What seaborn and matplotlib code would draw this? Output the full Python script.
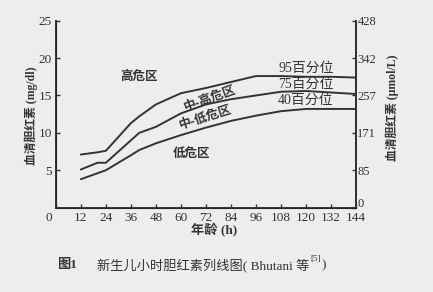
import numpy as np
import pandas as pd
import matplotlib
matplotlib.use("Agg")
import matplotlib.pyplot as plt
import matplotlib.transforms as mtrans
import seaborn as sns

# ---- data ----
hours = [12, 20, 24, 36, 40, 48, 60, 72, 84, 96, 108, 120, 132, 144]
p95 = [7.1, 7.4, 7.6, 11.3, 12.2, 13.8, 15.3, 16.0, 16.8, 17.6, 17.6, 17.5, 17.5, 17.4]
p75 = [5.1, 6.0, 6.0, 9.0, 10.0, 10.8, 12.6, 13.8, 14.5, 15.0, 15.5, 15.6, 15.4, 15.2]
p40 = [3.8, 4.6, 5.0, 7.0, 7.7, 8.6, 9.7, 10.7, 11.6, 12.3, 12.9, 13.2, 13.2, 13.2]
series_names = ["95百分位", "75百分位", "40百分位"]
x_ticks = [0, 12, 24, 36, 48, 60, 72, 84, 96, 108, 120, 132, 144]
left_ticks = [5, 10, 15, 20, 25]
right_ticks = [0, 85, 171, 257, 342, 428]
zone_labels = ["高危区", "中-高危区", "中-低危区", "低危区"]

df = pd.concat([
    pd.DataFrame({"hour": hours, "value": vals, "series": name})
    for name, vals in zip(series_names, [p95, p75, p40])
])

sns.set_style("ticks")
plt.rcParams["font.family"] = ["Liberation Serif", "Noto Sans CJK SC", "DejaVu Sans"]

bg = "#ededeb"
ink = "#333333"
fig = plt.figure(figsize=(4.33, 2.92), dpi=100, facecolor=bg)
ax = fig.add_axes([0.129, 0.289, 0.693, 0.640], facecolor=bg)

sns.lineplot(data=df, x="hour", y="value", hue="series",
             palette=[ink, ink, ink], linewidth=1.4, legend=False, ax=ax)

ax.set_xlim(0, 144)
ax.set_ylim(0, 25)
ax.set_xticks(x_ticks)
ax.set_xticklabels([str(t) for t in x_ticks])
ax.set_yticks(left_ticks)
ax.set_yticklabels([str(t) for t in left_ticks])
ax.tick_params(direction="in", length=3, width=1, colors=ink, labelsize=9.5, pad=3)
ax.set_xlabel("")
ax.set_ylabel("")
ax.spines["top"].set_visible(False)
for s in ["left", "bottom", "right"]:
    ax.spines[s].set_color(ink)
    ax.spines[s].set_linewidth(1.4)

ax2 = ax.twinx()
ax2.set_ylim(0, 428)
ax2.set_yticks(right_ticks)
ax2.set_yticklabels([str(t) for t in right_ticks])
ax2.tick_params(direction="in", length=3, width=1, colors=ink, labelsize=9, pad=1)
ax2.spines["top"].set_visible(False)
ax2.spines["right"].set_color(ink)
ax2.spines["right"].set_linewidth(1.4)

# nudge corner labels like the reference
lbl0 = ax2.get_yticklabels()[0]
lbl0.set_transform(lbl0.get_transform() + mtrans.ScaledTranslation(0, 4 / 72, fig.dpi_scale_trans))
xl0 = ax.get_xticklabels()[0]
xl0.set_transform(xl0.get_transform() + mtrans.ScaledTranslation(-5 / 72, 0, fig.dpi_scale_trans))

# zone labels
cjk = ["Noto Sans CJK SC", "DejaVu Sans"]
kw = dict(color=ink, fontsize=9, fontweight="bold", ha="center", va="center", family=cjk)
ax.text(40, 17.6, zone_labels[0], **kw)
ax.text(74, 14.6, zone_labels[1], rotation=20, **kw)
ax.text(72, 12.1, zone_labels[2], rotation=18, **kw)
ax.text(65, 7.3, zone_labels[3], **kw)

# percentile labels
for name, y in zip(series_names, [18.7, 16.5, 14.3]):
    ax.text(120, y, name, color=ink, fontsize=10, ha="center", va="center")

# axis titles
fig.text(0.072, 0.605, "血清胆红素 (mg/dl)", rotation=90, ha="center", va="center",
         fontsize=8.5, fontweight="bold", color=ink)
fig.text(0.906, 0.63, "血清胆红素 (μmol/L)", rotation=90, ha="center", va="center",
         fontsize=8.5, fontweight="bold", color=ink)
fig.text(0.494, 0.213, "年龄 (h)", ha="center", va="center",
         fontsize=9.5, fontweight="bold", color=ink)

# caption
fig.text(0.131, 0.092, "图1", ha="left", va="center", fontsize=9.5,
         fontweight="bold", color=ink)
cap = fig.text(0.224, 0.092, "新生儿小时胆红素列线图( Bhutani 等", ha="left",
               va="center", fontsize=9.5, color=ink)
fig.canvas.draw()
bb = cap.get_window_extent(renderer=fig.canvas.get_renderer())
x_end = bb.x1 / fig.bbox.width
sup = fig.text(x_end + 0.002, 0.092 + 0.022, "[5]", ha="left", va="center",
               fontsize=6.5, color=ink)
fig.canvas.draw()
bb2 = sup.get_window_extent(renderer=fig.canvas.get_renderer())
fig.text(bb2.x1 / fig.bbox.width + 0.002, 0.092, ")", ha="left", va="center",
         fontsize=9.5, color=ink)

fig.savefig("out.png", dpi=100, facecolor=bg)
